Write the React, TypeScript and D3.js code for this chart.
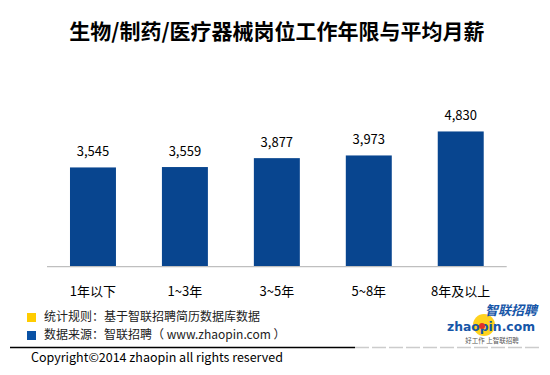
import React from "react";
import * as d3 from "d3";

const categories = ["1年以下", "1~3年", "3~5年", "5~8年", "8年及以上"];
const salaries = [3545, 3559, 3877, 3973, 4830];
const legendItems = ["统计规则：基于智联招聘简历数据库数据", "数据来源：智联招聘（ www.zhaopin.com ）"];
const legendColors = ["#FFCC00", "#0A52A5"];
const title = "生物/制药/医疗器械岗位工作年限与平均月薪";

const W = 550;
const H = 375;
const FONT = "'Noto Sans CJK SC', 'Noto Sans', sans-serif";

export default function App() {
  const x = d3
    .scaleBand<string>()
    .domain(categories)
    .range([47, 506.7])
    .paddingInner(0.5)
    .paddingOuter(0.25);
  const y = d3.scaleLinear().domain([0, 6000]).range([266.7, 266.7 - 168]);
  const fmt = d3.format(",");

  return (
    <svg
      width={W}
      height={H}
      style={{ position: "absolute", left: 0, top: 0, background: "#fff" }}
      fontFamily={FONT}
    >
      <rect x={0} y={0} width={W} height={H} fill="#fff" />
      <text x={277} y={39} textAnchor="middle" fontSize={21} fontWeight="bold" fill="#000">
        {title}
      </text>

      {categories.map((c, i) => (
        <g key={c}>
          <rect
            x={x(c)}
            y={y(salaries[i])}
            width={x.bandwidth()}
            height={y(0) - y(salaries[i])}
            fill="#08458F"
          />
          <text
            x={(x(c) as number) + x.bandwidth() / 2}
            y={y(salaries[i]) - 11}
            textAnchor="middle"
            fontSize={13}
            fill="#000"
          >
            {fmt(salaries[i])}
          </text>
          <text
            x={(x(c) as number) + x.bandwidth() / 2}
            y={296}
            textAnchor="middle"
            fontSize={13}
            fill="#000"
          >
            {c}
          </text>
        </g>
      ))}
      <line x1={47} x2={506.7} y1={y(0)} y2={y(0)} stroke="#BFBFBF" strokeWidth={1.2} />

      {legendItems.map((t, i) => (
        <g key={t}>
          <rect x={27} y={313 + i * 18} width={9} height={9} fill={legendColors[i]} />
          <text x={44} y={321 + i * 18} fontSize={12} fill="#222">
            {t}
          </text>
        </g>
      ))}

      <line x1={10} x2={355} y1={347.5} y2={347.5} stroke="#000" strokeWidth={1.3} />
      <line x1={355} x2={542} y1={347.5} y2={347.5} stroke="#ccc" strokeWidth={1.3} strokeDasharray="14 3" />
      <text x={31} y={362} fontSize={12.5} fill="#000">
        Copyright©2014 zhaopin all rights reserved
      </text>

      {/* logo */}
      <circle cx={484} cy={325} r={11} fill="#FFD21F" />
      <text x={537} y={315} textAnchor="end" fontSize={13} fontWeight="bold" fontStyle="italic" fill="#1656A8">
        智联招聘
      </text>
      <text x={447} y={331} fontSize={12} fontWeight="bold" fill="#1656A8" fontFamily="'DejaVu Sans', sans-serif" textLength={88} lengthAdjust="spacingAndGlyphs">
        zhaopin.com
      </text>
      <circle cx={482} cy={326} r={3} fill="#E0302A" />
      <text x={492} y={343} textAnchor="middle" fontSize={6.5} fill="#555">
        好工作 上智联招聘
      </text>
    </svg>
  );
}
